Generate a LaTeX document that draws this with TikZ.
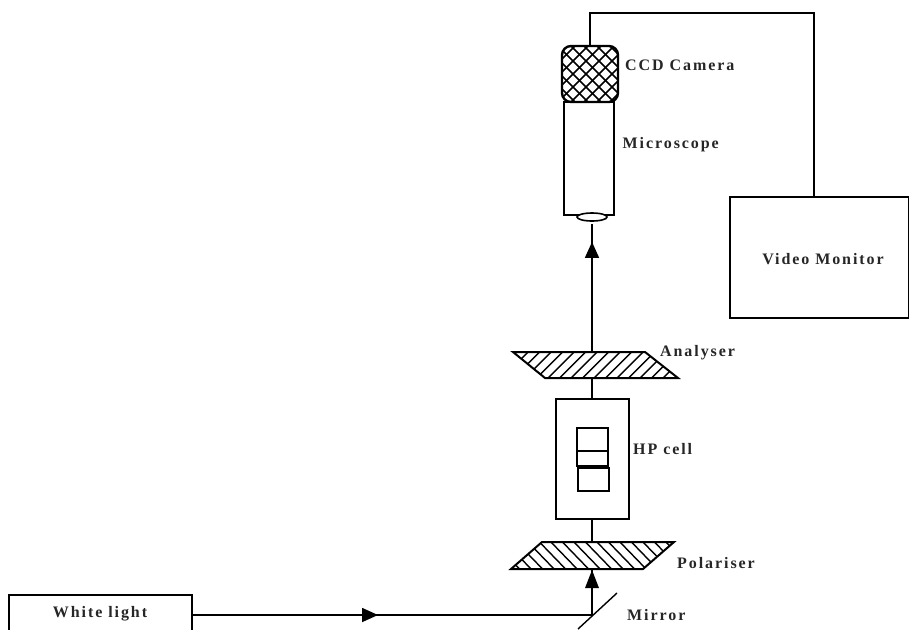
\documentclass[tikz,border=0pt]{standalone}
\usepackage{fontspec}
\setmainfont{Liberation Serif}[Ligatures=TeX]
\newfontfamily\lblfont{Liberation Serif}[LetterSpace=12,BoldFont={Liberation Serif Bold}]
\usetikzlibrary{arrows.meta,decorations.markings,shapes.geometric}
\tikzset{
  x=1pt,y=-1pt,
  ln/.style={draw=black,line width=1.7pt},
  box/.style={ln,fill=white,inner sep=0pt,outer sep=0pt,anchor=north west},
  lbl/.style={font=\lblfont\bfseries\fontsize{16}{18}\selectfont,inner sep=0pt,text=black!85},
  midtip/.style={postaction={decorate,decoration={markings,mark=at position #1 with {\arrow{Triangle[length=16pt,width=14pt]}}}}},
}
\begin{document}
\begin{tikzpicture}[line join=miter]
\useasboundingbox (0,0) rectangle (909,629);
\clip (0,0) rectangle (909,629);
% wire and monitor
\node[box,minimum width=179pt,minimum height=121pt] (monitor) at (730,197) {};
\node[lbl] (monitorlbl) at (823,259.5) {Video Monitor};
\coordinate (wireA) at (590,13);
\coordinate (wireB) at (814,13);
\coordinate (wireC) at (814,197);
% microscope
\node[box,minimum width=50pt,minimum height=113pt] (scope) at (564,102) {};
\node[draw=black,line width=1.6pt,fill=white,ellipse,minimum width=30pt,minimum height=8pt,inner sep=0pt] (lens) at (592,217) {};
% camera
\coordinate (camNW) at (562,46);
\coordinate (camSE) at (618,102);
\begin{scope}
\clip[rounded corners=9pt] (camNW) rectangle (camSE);
\foreach \k in {-8,...,16} {
  \draw[line width=1.6pt] (562+\k*13-56,102) -- (562+\k*13,46);
  \draw[line width=1.6pt] (562+\k*13-56,46) -- (562+\k*13,102);
}
\end{scope}
\draw[line width=2.4pt,rounded corners=9pt] (camNW) rectangle (camSE);
\coordinate (camtop) at (590,46);
\draw[ln] (camtop) -- (wireA) -- (wireB) -- (wireC);
\node[lbl,anchor=west] (camlbl) at (625,65.5) {CCD Camera};
\node[lbl,anchor=west] (scopelbl) at (622.5,145) {Microscope};
% analyser
\coordinate (anA) at (513,352);
\coordinate (anB) at (645,352);
\coordinate (anC) at (678,378);
\coordinate (anD) at (545,378);
\begin{scope}
\clip (anA) -- (anB) -- (anC) -- (anD) -- cycle;
\foreach \k in {0,...,20} \draw[line width=1.4pt] (500+\k*11.5,380) -- (530+\k*11.5,350);
\end{scope}
\draw[ln,line width=2pt] (anA) -- (anB) -- (anC) -- (anD) -- cycle;
\node[lbl,anchor=west] (anlbl) at (660,353) {Analyser};
% HP cell
\node[box,minimum width=73pt,minimum height=120pt] (cell) at (556,399) {};
\node[box,line width=1.5pt,minimum width=31pt,minimum height=23pt] (cellA) at (577,428) {};
\node[box,line width=1.5pt,minimum width=31pt,minimum height=15pt] (cellB) at (577,451) {};
\node[box,line width=1.5pt,minimum width=31pt,minimum height=23pt] (cellC) at (578,468) {};
\node[lbl,anchor=west] (celllbl) at (633,449) {HP cell};
% polariser
\coordinate (poA) at (542,542);
\coordinate (poB) at (674,542);
\coordinate (poC) at (643,569);
\coordinate (poD) at (511,569);
\begin{scope}
\clip (poA) -- (poB) -- (poC) -- (poD) -- cycle;
\foreach \k in {0,...,20} \draw[line width=1.4pt] (480+\k*11.5,540) -- (510+\k*11.5,571);
\end{scope}
\draw[ln,line width=2pt] (poA) -- (poB) -- (poC) -- (poD) -- cycle;
\node[lbl,anchor=west] (polbl) at (677,563) {Polariser};
% axis
\coordinate (axisTop) at (592,224);
\coordinate (anTop) at (592,352);
\coordinate (anBot) at (592,378);
\coordinate (poTop) at (592,542);
\coordinate (poBot) at (592,569);
\coordinate (mirrorHit) at (592,615);
\draw[ln,midtip=0.86] (anTop) -- (axisTop);
\draw[ln] (anBot) -- (cell.north -| anBot);
\draw[ln] (cell.south -| poTop) -- (poTop);
\draw[ln] (mirrorHit) -- (poBot);
\fill (poBot) ++(0,1) -- ++(7,18) -- ++(-14,0) -- cycle;
% mirror
\coordinate (mA) at (617,593);
\coordinate (mB) at (578,629);
\draw[line width=1.4pt] (mA) -- (mB);
\node[lbl,anchor=west] (mlbl) at (627,615) {Mirror};
% white light
\node[box,minimum width=183pt,minimum height=60pt] (white) at (9,595) {};
\node[lbl] (whitelbl) at (100,614) {White light};
\draw[ln,midtip=0.465] (white.east |- mirrorHit) -- (mirrorHit);
\end{tikzpicture}
\end{document}
